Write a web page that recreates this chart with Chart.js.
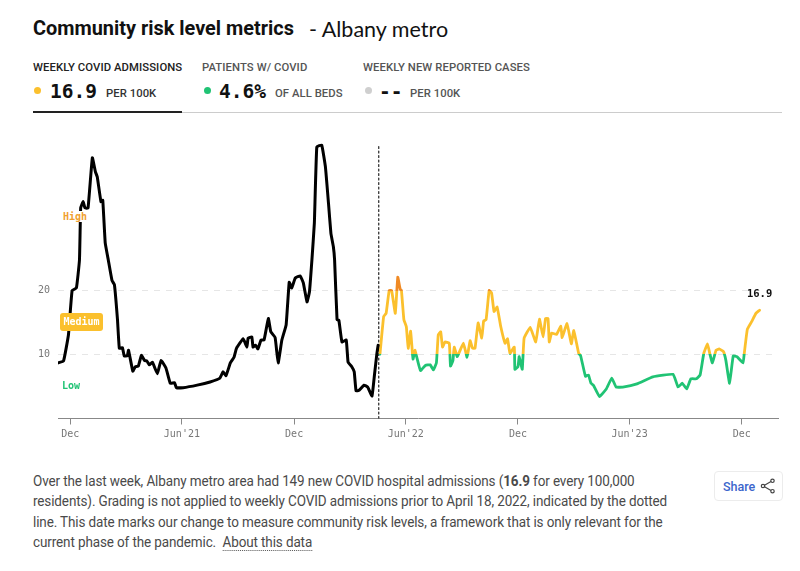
<!DOCTYPE html>
<html><head><meta charset="utf-8">
<script src="https://cdn.jsdelivr.net/npm/chart.js@4"></script>
<style>
html,body{margin:0;padding:0;background:#fff;width:800px;height:571px;overflow:hidden}
body{position:relative;font-family:Roboto,sans-serif}
.a{position:absolute;white-space:nowrap}
.tab{font-size:11.3px;font-weight:500;color:#555;letter-spacing:.08px;top:61px}
.big{font-family:"DejaVu Sans Mono",monospace;font-weight:700;font-size:19.5px;color:#111;top:80px}
.unit{font-size:11.3px;font-weight:500;color:#555;letter-spacing:.05px;top:87px}
.dot{width:7px;height:7px;border-radius:50%;top:87px}
.body{font-size:14px;color:#4a4a4a;left:33px;letter-spacing:-.12px;transform:scaleX(.963);transform-origin:left center}
.mono{font-family:"DejaVu Sans Mono",monospace;font-weight:700;font-size:10px}
canvas{position:absolute;left:0;top:130px}
</style></head><body>
<div class="a" style="left:33px;top:17px;font-size:19.9px;font-weight:700;color:#111">Community risk level metrics</div>
<div class="a" id="hand" style="left:309px;top:16px;font-size:21.5px;color:#111;font-family:cursive,'Comic Sans MS','Lato'">- Albany metro</div>

<div class="a tab" style="left:33px;color:#222">WEEKLY COVID ADMISSIONS</div>
<div class="a dot" style="left:34px;background:#fbc02d"></div>
<div class="a big" style="left:50px">16.9</div>
<div class="a unit" style="left:106px;color:#333">PER 100K</div>

<div class="a tab" style="left:202px">PATIENTS W/ COVID</div>
<div class="a dot" style="left:204px;background:#20c374"></div>
<div class="a big" style="left:219px">4.6%</div>
<div class="a unit" style="left:275px">OF ALL BEDS</div>

<div class="a tab" style="left:363px">WEEKLY NEW REPORTED CASES</div>
<div class="a dot" style="left:365px;background:#cfcfcf"></div>
<div class="a big" style="left:379px">--</div>
<div class="a unit" style="left:410px">PER 100K</div>

<div class="a" style="left:33px;top:112px;width:749px;height:1px;background:#ccc"></div>
<div class="a" style="left:33px;top:111px;width:149px;height:2px;background:#222"></div>

<canvas id="c" width="800" height="310"></canvas>

<div class="a mono" style="left:62px;top:211px;color:#f0a030;background:#fff;padding:0 1px">High</div>
<div class="a mono" style="left:60px;top:313px;width:43px;height:18px;line-height:18px;text-align:center;color:#fff;background:#fbc02d;border-radius:3px">Medium</div>
<div class="a mono" style="left:62px;top:380px;color:#20c374">Low</div>

<div class="a body" style="top:473px">Over the last week, Albany metro area had 149 new COVID hospital admissions (<b>16.9</b> for every 100,000</div>
<div class="a body" style="top:493px">residents). Grading is not applied to weekly COVID admissions prior to April 18, 2022, indicated by the dotted</div>
<div class="a body" style="top:514px">line. This date marks our change to measure community risk levels, a framework that is only relevant for the</div>
<div class="a body" style="top:534px">current phase of the pandemic.&nbsp; <span style="border-bottom:1px dotted #555">About this data</span></div>

<div class="a" style="left:714px;top:471px;width:67px;height:28px;border:1px solid #ececec;border-radius:4px"></div>
<div class="a" style="left:723px;top:479px;font-size:12.5px;font-weight:500;color:#3b66cc">Share</div>
<svg class="a" style="left:760px;top:478px" width="16" height="16" viewBox="0 0 16 16" fill="none" stroke="#444" stroke-width="1.2">
<circle cx="12.5" cy="2.8" r="1.7"/><circle cx="3" cy="8" r="1.7"/><circle cx="12.5" cy="13.2" r="1.7"/><path d="M4.5 7.2 11 3.6M4.5 8.8 11 12.4"/></svg>

<script>
const tickDays = [0, 182, 365, 547, 730, 912, 1095];
const tickLabels = ["Dec", "Jun'21", "Dec", "Jun'22", "Dec", "Jun'23", "Dec"];
const yTicks = [10, 20];

const ungradedDays = [-20,-11,-3,3,10,15,17,21,24,29,36,41,44,50,53,57,62,68,72,77,80,85,88,93,95,102,106,111,116,121,125,129,134,142,148,156,163,170,173,184,207,228,244,249,254,261,267,271,282,288,290,296,298,302,306,311,316,323,327,334,339,345,352,357,361,367,375,380,386,390,394,398,402,410,416,421,425,429,431,435,438,443,450,453,459,463,466,471,479,485,492,496,500,502];
const ungradedValues = [8.6,8.9,13,20,20.4,24.8,33,34,33,33,40.9,38.7,37.9,34,34.2,27.5,24.8,21.6,20.9,15.4,10.9,11,9.7,9.7,10.6,7.3,8,8.1,9.8,9,8.9,8.3,8.7,6.9,9,7.8,5.4,5.5,4.7,4.7,5.1,5.6,6.2,7.2,6.6,8.6,9.5,10.9,12.4,11.1,12.5,12.7,11.1,11.4,10.8,12.2,12.2,15.6,13.5,12.6,8.6,12.2,14.6,21.3,20.4,22,22.3,21.2,18.2,19.8,24.8,30.6,42.6,42.9,39.5,33.8,29,26.9,24.8,15.4,15.3,11.9,12.2,8.7,8,7.2,4.2,4.3,5.1,4.8,3.4,6.7,10.1,11.4];

const gradedDays = [505,511,515,520,524,530,534,538,540,544,548,551,555,558,559,562,565,571,579,587,592,597,600,604,607,611,618,620,624,626,631,641,647,652,656,660,665,671,674,678,683,687,691,696,702,709,713,717,724,725,730,732,737,740,750,759,765,771,775,779,781,785,793,800,802,810,817,821,829,832,840,845,849,853,863,874,883,890,901,924,950,983,991,998,1005,1012,1021,1027,1033,1039,1043,1047,1053,1058,1065,1069,1075,1081,1087,1097,1099,1104,1111,1118,1124];
const gradedValues = [10,15.9,16.4,20,20,16.4,22.1,20.2,20,15.4,14.3,10.9,13.6,10,9.2,10.6,9.5,7.4,8.2,8.3,7.5,8.6,13,13.5,11.1,11.9,11.7,8.1,9,11.1,9.6,11.7,9.5,12.1,10.9,10.9,14.9,12.5,15.2,15.4,20,19.6,16.7,17.4,14.3,11.7,12.4,10.1,11.1,7.6,8,9.6,7.6,12.5,14.2,11.9,15.5,12.7,15.6,15.6,11.9,13.3,13.1,14.4,12.6,14.8,11.6,13.7,10.1,9.8,6.5,6.7,5.4,5.1,3.3,4.5,6.2,4.8,4.8,5.3,6.4,6.8,4.8,5.4,4.5,6.1,6.1,6.7,10.1,11.6,10,8.6,10.6,10.8,10.4,9,5.4,9.7,9.6,8.6,10.1,13.9,15.1,16.4,16.9];

const gradingDay = 503;
const thresholds = {low: 10, high: 20};
const colors = {high: '#f08a24', medium: '#fbc02d', low: '#20c374'};
const latestLabel = "16.9";

const zip = (xs, ys) => xs.map((x, i) => ({x, y: ys[i]}));

function riskGradient(ctx) {
  const {chart} = ctx;
  if (!chart.chartArea) return colors.medium;
  const s = chart.scales.y, c = chart.ctx;
  const top = s.getPixelForValue(s.max), bot = s.getPixelForValue(s.min);
  const g = c.createLinearGradient(0, top, 0, bot);
  const a = (s.getPixelForValue(thresholds.high) - top) / (bot - top);
  const b = (s.getPixelForValue(thresholds.low) - top) / (bot - top);
  g.addColorStop(0, colors.high); g.addColorStop(a, colors.high);
  g.addColorStop(a, colors.medium); g.addColorStop(b, colors.medium);
  g.addColorStop(b, colors.low); g.addColorStop(1, colors.low);
  return g;
}

const endLabel = {
  id: 'endLabel',
  afterDatasetsDraw(chart) {
    const c = chart.ctx, m = chart.getDatasetMeta(1).data.at(-1);
    c.save();
    c.font = '700 10.5px "DejaVu Sans Mono", monospace';
    c.fillStyle = '#111'; c.textAlign = 'center'; c.textBaseline = 'middle';
    c.fillText(latestLabel, m.x, m.y - 16);
    c.restore();
  }
};

new Chart(document.getElementById('c'), {
  type: 'line',
  plugins: [endLabel],
  data: {datasets: [
    {data: zip(ungradedDays, ungradedValues), borderColor: '#000', borderWidth: 3, tension: 0.1},
    {data: zip(gradedDays, gradedValues), borderColor: riskGradient, borderWidth: 2.8, tension: 0.1},
    {data: [{x: gradingDay, y: -0.15}, {x: gradingDay, y: 42.9}], borderColor: '#222', borderWidth: 1.2, borderDash: [2, 2.5]}
  ]},
  options: {
    responsive: false, animation: false,
    layout: {padding: {top: 10, right: 22, left: 0, bottom: 0}},
    elements: {point: {radius: 0}, line: {borderJoinStyle: 'round', borderCapStyle: 'round'}},
    plugins: {legend: {display: false}, tooltip: {enabled: false}, title: {display: false}},
    scales: {
      x: {
        type: 'linear', min: -20, max: 1154,
        afterBuildTicks: a => { a.ticks = tickDays.map(v => ({value: v})); },
        afterFit: a => { a.height = 21.5; a.paddingLeft = 0; a.paddingRight = 0; },
        grid: {drawOnChartArea: false, drawTicks: true, tickLength: 6, color: '#888'},
        border: {color: '#888', width: 1},
        ticks: {
          autoSkip: false, maxRotation: 0, padding: 4, color: '#777',
          font: {family: '"DejaVu Sans Mono", monospace', size: 10},
          callback: v => tickLabels[tickDays.indexOf(v)]
        }
      },
      y: {
        min: -0.15, max: 43.7,
        afterBuildTicks: a => { a.ticks = yTicks.map(v => ({value: v})); },
        afterFit: a => { a.width = 58; a.paddingTop = 0; a.paddingBottom = 0; },
        grid: {drawTicks: false, color: '#e6e6e6', lineWidth: 1},
        border: {display: false, dash: [6, 6]},
        ticks: {
          padding: 8, color: '#777',
          font: {family: '"DejaVu Sans Mono", monospace', size: 10}
        }
      }
    }
  }
});
</script>
</body></html>
